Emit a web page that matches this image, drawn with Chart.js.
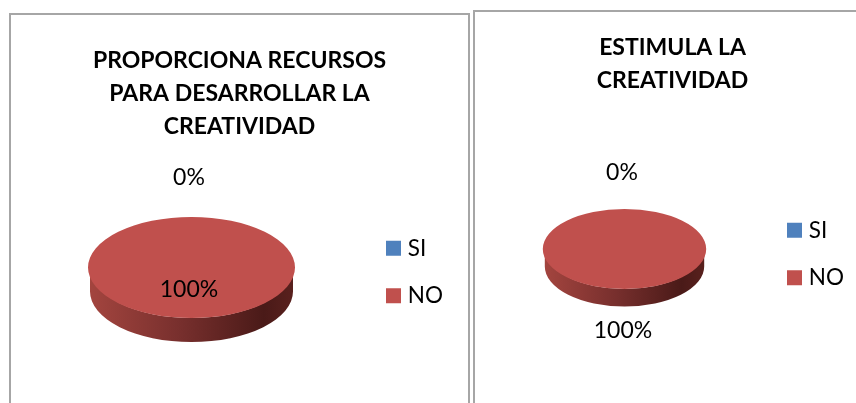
<!DOCTYPE html>
<html lang="es">
<head>
    <meta charset="UTF-8">
    <title>Creatividad</title>
    <style>
        html, body { margin: 0; background: #fff; overflow: hidden; width: 856px; height: 403px; }
        .quadro { position: absolute; border: 2px solid #a6a6a6; box-sizing: border-box; }
        #quadro1 { left: 9px; top: 13px; width: 461px; height: 420px; }
        #quadro2 { left: 473px; top: 10px; width: 399px; height: 420px; }
        canvas { display: block; }
    </style>
</head>
<body>
    <div class="quadro" id="quadro1"><canvas id="myChart1"></canvas></div>
    <div class="quadro" id="quadro2"><canvas id="myChart2"></canvas></div>

<script src="https://cdn.jsdelivr.net/npm/chart.js"></script>
<script>
    const categorias = ['SI', 'NO'];
    const valoresRecursos = [0, 100];
    const valoresEstimula = [0, 100];
    const tituloRecursos = ['PROPORCIONA RECURSOS', 'PARA DESARROLLAR LA', 'CREATIVIDAD'];
    const tituloEstimula = ['ESTIMULA LA', 'CREATIVIDAD'];
    const cores = ['#4f81bd', '#c0504d'];

    const fonte = 'Lato, Carlito, sans-serif';

    // achata a pizza em elipse e desenha a lateral "3D" antes das fatias
    const pizza3d = {
        id: 'pizza3d',
        afterLayout(chart, args, opts) {
            chart.legend.left = opts.legendaX;
            chart.legend.top = opts.legendaY;
        },
        beforeDatasetDraw(chart, args, opts) {
            const ctx = chart.ctx;
            const arcos = args.meta.data;
            const r = arcos[0].outerRadius;
            const ry = r * opts.achatar;

            const grad = ctx.createLinearGradient(opts.cx - r, 0, opts.cx + r, 0);
            grad.addColorStop(0, '#a4453f');
            grad.addColorStop(0.45, '#772f2d');
            grad.addColorStop(0.85, '#4a1a18');
            grad.addColorStop(1, '#5a211e');

            ctx.save();
            ctx.fillStyle = grad;
            ctx.beginPath();
            ctx.ellipse(opts.cx, opts.cy, r - 2, ry, 0, 0, Math.PI);
            ctx.ellipse(opts.cx, opts.cy + opts.altura, r - 2, ry, 0, Math.PI, 0, true);
            ctx.closePath();
            ctx.fill();
            ctx.restore();

            ctx.save();
            ctx.translate(opts.cx, opts.cy);
            ctx.scale(1, opts.achatar);
            ctx.translate(-arcos[0].x, -arcos[0].y);
        },
        afterDatasetDraw(chart) {
            chart.ctx.restore();
        },
        afterDraw(chart, args, opts) {
            const ctx = chart.ctx;
            const valores = chart.data.datasets[0].data;
            const total = valores.reduce((a, b) => a + b, 0);
            ctx.save();
            ctx.font = '23px ' + fonte;
            ctx.fillStyle = '#000';
            ctx.textAlign = 'center';
            ctx.textBaseline = 'alphabetic';
            valores.forEach((v, i) => {
                const p = opts.rotulos[i];
                ctx.fillText(Math.round(v / total * 100) + '%', p[0], p[1]);
            });
            ctx.restore();
        }
    };

    // o traco grosso deixa o quadradinho com 15px e o texto mais perto dele
    function itensLegenda() {
        return categorias.map((c, i) => ({
            text: c,
            fillStyle: cores[i],
            strokeStyle: cores[i],
            lineWidth: 9,
            hidden: false,
            index: i
        }));
    }

    function criarGrafico(id, titulo, valores, largura, altura, raio, opts) {
        const canvas = document.getElementById(id);
        canvas.width = largura;
        canvas.height = altura;
        new Chart(canvas, {
            type: 'pie',
            plugins: [pizza3d],
            data: {
                labels: categorias,
                datasets: [{
                    data: valores,
                    backgroundColor: cores,
                    borderWidth: 0,
                    radius: raio,
                    clip: false
                }]
            },
            options: {
                responsive: false,
                animation: false,
                plugins: {
                    title: {
                        display: true,
                        text: titulo,
                        color: '#000',
                        font: { family: fonte, size: 23, weight: 'bold', lineHeight: 1.435 },
                        padding: { top: opts.tituloTopo, bottom: 0 }
                    },
                    legend: {
                        position: 'right',
                        align: 'start',
                        labels: {
                            boxWidth: 6,
                            boxHeight: 6,
                            padding: 25,
                            color: '#000',
                            font: { family: fonte, size: 22.5 },
                            generateLabels: itensLegenda
                        }
                    },
                    tooltip: { enabled: false },
                    pizza3d: opts
                }
            }
        });
    }

    criarGrafico('myChart1', tituloRecursos, valoresRecursos, 457, 416, 103.5, {
        cx: 180.5, cy: 252.5, achatar: 0.488, altura: 24,
        legendaX: 354.5, legendaY: 197, tituloTopo: 29,
        rotulos: [[178, 170], [178, 282]]
    });
    criarGrafico('myChart2', tituloEstimula, valoresEstimula, 395, 416, 81.7, {
        cx: 149.5, cy: 237, achatar: 0.49, altura: 17.5,
        legendaX: 291.5, legendaY: 182, tituloTopo: 19.5,
        rotulos: [[147, 168], [148, 326]]
    });
</script>
</body>
</html>
